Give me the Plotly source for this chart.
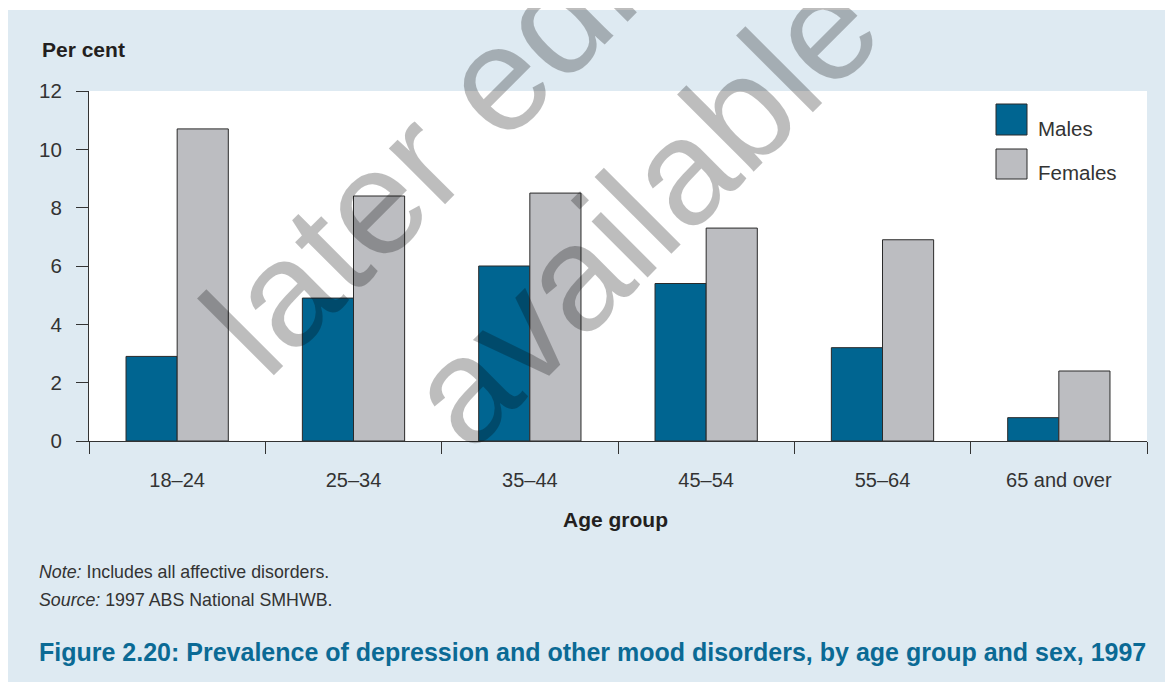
import plotly.graph_objects as go

age_groups = ["18–24", "25–34", "35–44", "45–54", "55–64", "65 and over"]
males = [2.9, 4.9, 6.0, 5.4, 3.2, 0.8]
females = [10.7, 8.4, 8.5, 7.3, 6.9, 2.4]
series_names = ["Males", "Females"]
y_ticks = [0, 2, 4, 6, 8, 10, 12]

MALE_C = "#006591"
FEMALE_C = "#BCBDC1"
EDGE = "#2a2a2a"
PANEL = "#DEEAF2"
FONT = "Liberation Sans, Arial, Helvetica, sans-serif"
TEXT_C = "#231f20"
TITLE_C = "#0B6A95"

# page offset of the figure inside the browser (default body margin)
OX, OY = 8, 8
W, H = 1173, 682
# plot area in screen pixels
SX0, SX1, SY0, SY1 = 89, 1147, 91, 441
L, R, T, B = SX0 - OX, W - (SX1 - OX), SY0 - OY, H - (SY1 - OY)
PW, PH = W - L - R, H - T - B


def px(x):
    return (x - SX0) / PW


def py(y):
    return (SY1 - y) / PH


fig = go.Figure()
fig.add_trace(go.Bar(x=age_groups, y=males, name=series_names[0],
                     marker=dict(color=MALE_C, line=dict(color=EDGE, width=1)),
                     showlegend=False))
fig.add_trace(go.Bar(x=age_groups, y=females, name=series_names[1],
                     marker=dict(color=FEMALE_C, line=dict(color=EDGE, width=1)),
                     showlegend=False))

shapes = [
    dict(type="rect", xref="paper", yref="paper", x0=px(8), x1=px(1200), y0=py(720), y1=py(10),
         fillcolor=PANEL, line=dict(width=0), layer="below"),
    dict(type="rect", xref="paper", yref="paper", x0=0, x1=1, y0=0, y1=1,
         fillcolor="white", line=dict(width=0), layer="below"),
    # legend swatches
    dict(type="rect", xref="paper", yref="paper", x0=px(996), x1=px(1027), y0=py(135), y1=py(104),
         fillcolor=MALE_C, line=dict(color=EDGE, width=1)),
    dict(type="rect", xref="paper", yref="paper", x0=px(996), x1=px(1027), y0=py(179), y1=py(149),
         fillcolor=FEMALE_C, line=dict(color=EDGE, width=1)),
]

annotations = [
    dict(text="<b>Per cent</b>", x=px(40), y=py(50), xref="paper", yref="paper",
         xanchor="left", yanchor="middle", showarrow=False, font=dict(size=21, color=TEXT_C)),
    dict(text="<b>Age group</b>", x=px(615), y=py(519), xref="paper", yref="paper",
         xanchor="center", yanchor="middle", showarrow=False, font=dict(size=21, color=TEXT_C)),
    dict(text=series_names[0], x=px(1036), y=py(128), xref="paper", yref="paper",
         xanchor="left", yanchor="middle", showarrow=False, font=dict(size=20.5, color="#333333")),
    dict(text=series_names[1], x=px(1036), y=py(172), xref="paper", yref="paper",
         xanchor="left", yanchor="middle", showarrow=False, font=dict(size=20.5, color="#333333")),
    dict(text="<i>Note:</i> Includes all affective disorders.", x=px(37), y=py(572), xref="paper",
         yref="paper", xanchor="left", yanchor="middle", showarrow=False,
         font=dict(size=17.8, color="#333333")),
    dict(text="<i>Source:</i> 1997 ABS National SMHWB.", x=px(37), y=py(600), xref="paper",
         yref="paper", xanchor="left", yanchor="middle", showarrow=False,
         font=dict(size=17.8, color="#333333")),
    dict(text="<b>Figure 2.20: Prevalence of depression and other mood disorders, by age group and sex, 1997</b>",
         x=px(37), y=py(652), xref="paper", yref="paper", xanchor="left", yanchor="middle",
         showarrow=False, font=dict(size=25, color=TITLE_C)),
    # watermark
    dict(text="later edition<br>available", x=px(573), y=py(140), xref="paper", yref="paper",
         xanchor="center", yanchor="middle", showarrow=False, textangle=-45,
         font=dict(size=150, color="rgba(0,0,0,0.26)")),
]

fig.update_layout(
    width=W, height=H,
    margin=dict(l=L, r=R, t=T, b=B, pad=0),
    paper_bgcolor="white",
    plot_bgcolor="white",
    barmode="group",
    bargap=0.42,
    bargroupgap=0,
    font=dict(family=FONT, color=TEXT_C),
    shapes=shapes,
    annotations=annotations,
    showlegend=False,
    xaxis=dict(
        type="category", range=[-0.5, 5.5], tickson="boundaries",
        ticks="outside", ticklen=12, tickwidth=1, tickcolor="#333333",
        showline=True, linecolor="#333333", linewidth=1,
        showgrid=False, zeroline=False,
        tickfont=dict(size=20, color="#333333"), ticklabelstandoff=21,
    ),
    yaxis=dict(
        range=[0, 12], tickvals=y_ticks, ticks="outside", ticklen=12, tickwidth=1,
        tickcolor="#333333", showline=True, linecolor="#333333", linewidth=1,
        showgrid=False, zeroline=False,
        tickfont=dict(size=20.5, color="#333333"), ticklabelstandoff=10,
    ),
)

fig.write_html("out.html")
